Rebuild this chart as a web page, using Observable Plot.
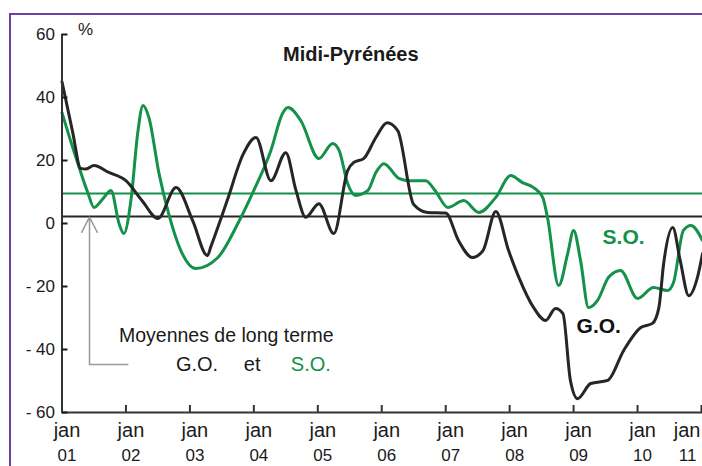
<!DOCTYPE html>
<html><head><meta charset="utf-8">
<script src="https://cdn.jsdelivr.net/npm/d3@7"></script>
<script src="https://cdn.jsdelivr.net/npm/@observablehq/plot@0.6"></script>
<style>
html,body{margin:0;padding:0;background:#fff;}
#wrap{position:relative;width:702px;height:466px;overflow:hidden;background:#fff;}
#wrap svg{position:absolute;left:0;top:0;}
#frame{position:absolute;left:9px;top:12.5px;width:800px;height:600px;border-left:2px solid #6d3fa3;border-top:2px solid #6d3fa3;}
</style></head>
<body><div id="wrap"><div id="frame"></div></div>
<script>
// Month index counted from January 2001
const goMonths = [0, 2, 3.5, 4.5, 6, 8.8, 12, 15, 18, 21.4, 24.5, 27.3, 27.9, 31, 34, 36.4, 39.2, 42, 43.9, 45.75, 48.2, 51, 53.6, 54.75, 56.6, 58.9, 61, 63, 66, 68.6, 72, 74.4, 77, 79, 81.4, 83.8, 85.7, 88.5, 90.75, 92.6, 94, 95.4, 96.75, 99.2, 102.4, 105.4, 108.6, 110.8, 112, 112.9, 114.6, 116, 117.6, 119.25, 120.2];
const goValues = [45, 29, 17.5, 17.3, 18.4, 16.2, 13.6, 7.3, 1.6, 11.4, 1, -10.2, -7.5, 7.3, 22, 27.3, 13.6, 22.5, 10.5, 2, 6.3, -3.2, 16.8, 19.4, 20.6, 27.3, 32, 29.5, 6, 3.5, 3.3, -5.4, -10.8, -8.6, 3.8, -8.6, -17, -26.7, -30.8, -27, -28.6, -49.8, -55.6, -50.8, -49.8, -40.3, -33, -31.7, -26.7, -12.7, -1.3, -11.7, -22.9, -17, -9.5];
const soMonths = [0, 2.6, 4.9, 6, 7.7, 9.2, 10.7, 11.6, 13, 14.2, 15.2, 16.3, 18.2, 20, 22.3, 25.1, 29.25, 33, 36, 39.2, 41.4, 42.4, 44.8, 48.2, 50.8, 52, 53.6, 55.1, 57.4, 58.9, 60.4, 63.2, 65, 68.25, 70, 72.4, 75.4, 78.2, 81.4, 84.2, 86.4, 88.5, 90.2, 91.1, 93.2, 94.9, 96, 97.3, 98.8, 100.5, 102.6, 104.8, 108, 111, 113.6, 114.75, 116.6, 118, 120.2];
const soValues = [35.2, 21, 9.5, 5.1, 7.9, 10.5, 0, -3.2, 8.3, 28.6, 37.5, 33.7, 15.9, 3.2, -8.6, -14.3, -10.8, 0, 10.5, 23.2, 35, 36.8, 32.7, 20.6, 25.4, 23.2, 12.7, 8.9, 10.5, 16.2, 19, 14.3, 13.6, 13.6, 10.5, 5.1, 7.3, 3.5, 8.3, 15.2, 13, 11.4, 8.3, 1.9, -19.7, -9.5, -2.2, -11.7, -26.7, -24.4, -17, -14.9, -23.8, -20.3, -21.3, -18.7, -2.2, -0.6, -5.4];
const goMean = 2.2;
const soMean = 9.5;
const xTicks = [2001, 2002, 2003, 2004, 2005, 2006, 2007, 2008, 2009, 2010, 2011];
const yTicks = [60, 40, 20, 0, -20, -40, -60];
const title = "Midi-Pyrénées";
const unit = "%";
const legendLine1 = "Moyennes de long terme";

const green = "#14914a";
const dark = "#262626";
const go = goMonths.map((m, i) => ({t: 2001 + m / 12, v: goValues[i]}));
const so = soMonths.map((m, i) => ({t: 2001 + m / 12, v: soValues[i]}));
const innerTicks = xTicks.slice(0, -1);
const lastTick = xTicks.slice(-1);
const yy = d => String(d % 100).padStart(2, "0");

const txt = (data, o) => Plot.text(data, {lineAnchor: "bottom", fill: "#1a1a1a", ...o});

const chart = Plot.plot({
  width: 702, height: 466,
  marginLeft: 61.5, marginRight: 0, marginTop: 34, marginBottom: 54,
  x: {domain: [2001, 2001 + 641 / 64]},
  y: {domain: [-60, 60]},
  style: {fontFamily: "'Liberation Sans', Arial, sans-serif", background: "transparent", color: "#1a1a1a"},
  marks: [
    Plot.ruleY([goMean], {stroke: dark, strokeWidth: 2}),
    Plot.ruleY([soMean], {stroke: green, strokeWidth: 2}),
    Plot.arrow([{x: 2001.43, y1: -44.76, y2: 2.0}], {x1: "x", x2: "x", y1: "y1", y2: "y2", stroke: "#9a9a9a", strokeWidth: 1.5, headLength: 17, headAngle: 55}),
    Plot.ruleY([{y: -44.76, x1: 2001.43, x2: 2002.047}], {y: "y", x1: "x1", x2: "x2", stroke: "#9a9a9a", strokeWidth: 1.5}),
    Plot.line(so, {x: "t", y: "v", stroke: green, strokeWidth: 3, curve: "monotone-x"}),
    Plot.line(go, {x: "t", y: "v", stroke: dark, strokeWidth: 3, curve: "monotone-x"}),
    Plot.ruleX([2001], {y1: -60, y2: 60, stroke: "#333", strokeWidth: 2}),
    Plot.ruleY([-60], {stroke: "#333", strokeWidth: 2}),
    Plot.axisY(yTicks, {tickSize: -6, tickPadding: 13, strokeWidth: 2, color: "#1a1a1a", fontSize: 17,
      tickFormat: d => d < 0 ? "- " + (-d) : String(d)}),
    Plot.axisX(xTicks, {tickSize: -7, strokeWidth: 2, color: "#333", tickFormat: () => ""}),
    txt(innerTicks, {x: d => d, frameAnchor: "bottom", text: () => "jan", dy: 24, dx: 5, fontSize: 20}),
    txt(innerTicks, {x: d => d, frameAnchor: "bottom", text: yy, dy: 48, dx: 5, fontSize: 17}),
    txt(lastTick, {x: d => d, frameAnchor: "bottom", text: () => "jan", dy: 24, dx: -1, fontSize: 20, textAnchor: "end"}),
    txt(lastTick, {x: d => d, frameAnchor: "bottom", text: yy, dy: 48, dx: -5, fontSize: 17, textAnchor: "end"}),
    txt([title], {x: 2005.516, y: 51.6, text: d => d, fontSize: 20, fontWeight: "bold"}),
    txt([unit], {x: 2001.25, y: 59.7, text: d => d, fontSize: 17, textAnchor: "start"}),
    txt([legendLine1], {x: 2001.891, y: -37.6, text: d => d, fontSize: 19.5, textAnchor: "start", ariaLabel: "legend1"}),
    txt(["G.O."], {x: 2002.781, y: -46.7, text: d => d, fontSize: 20, textAnchor: "start"}),
    txt(["et"], {x: 2003.844, y: -46.7, text: d => d, fontSize: 20, textAnchor: "start"}),
    txt(["S.O."], {x: 2004.578, y: -46.7, text: d => d, fontSize: 20, textAnchor: "start", fill: green}),
    txt(["S.O."], {x: 2009.453, y: -6.35, text: d => d, fontSize: 21, fontWeight: "bold", textAnchor: "start", fill: green, ariaLabel: "solabel"}),
    txt(["G.O."], {x: 2009.047, y: -34.9, text: d => d, fontSize: 21, fontWeight: "bold", textAnchor: "start", fill: "#111", ariaLabel: "golabel"})
  ]
});
document.getElementById("wrap").insertBefore(chart, document.getElementById("frame"));

function stretch(label, factor) {
  chart.querySelectorAll(`g[aria-label="${label}"] text`).forEach(t => {
    const L = t.getComputedTextLength();
    t.setAttribute("textLength", L * factor);
    t.setAttribute("lengthAdjust", "spacingAndGlyphs");
  });
}
stretch("legend1", 1.11);
stretch("solabel", 1.18);
stretch("golabel", 1.17);
</script>
</body></html>
